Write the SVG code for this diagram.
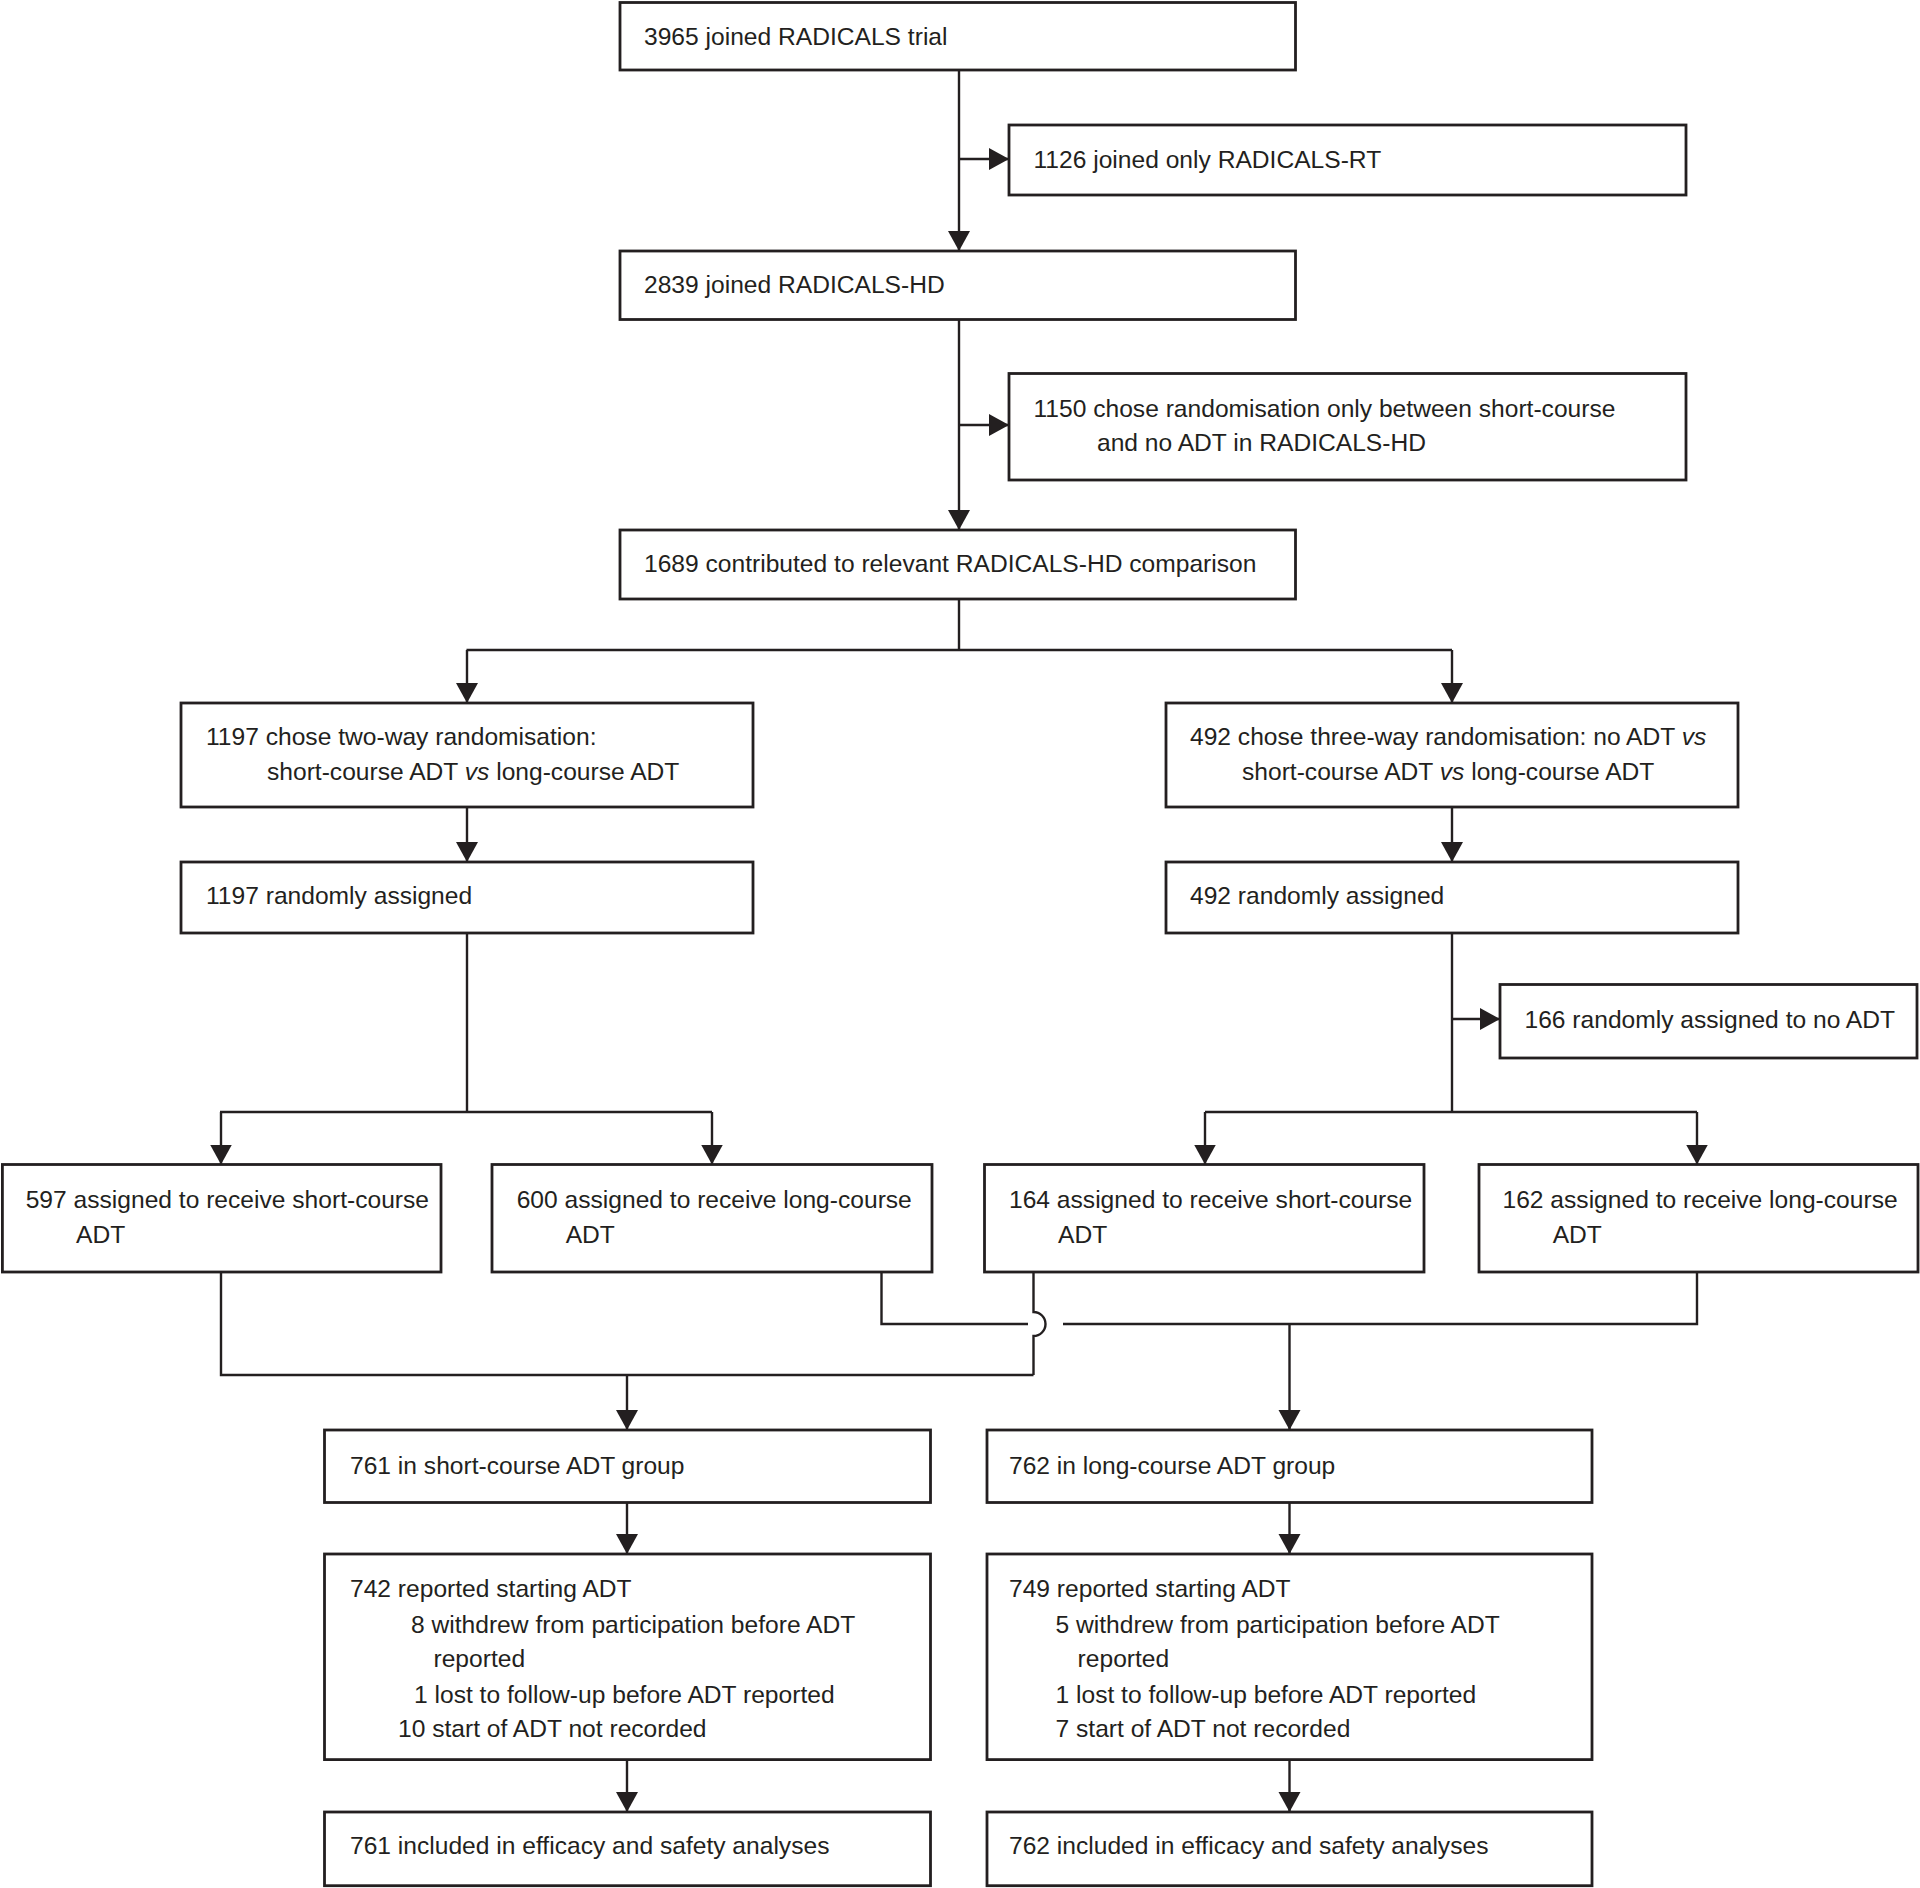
<svg xmlns="http://www.w3.org/2000/svg" width="1920" height="1888" viewBox="0 0 1920 1888">
<defs>
<marker id="ah" markerUnits="userSpaceOnUse" markerWidth="22" markerHeight="24" refX="20" refY="11" orient="auto">
<path d="M0,0 L20,11 L0,22 z" fill="#231f20"/>
</marker>
<style>
.box{fill:#fff;stroke:#231f20;stroke-width:2.8}
.c{fill:none;stroke:#231f20;stroke-width:2.4}
text{font-family:"Liberation Sans",Arial,sans-serif;font-size:24.6px;fill:#231f20}
</style>
</defs>
<rect width="1920" height="1888" fill="#fff"/>
<g id="connectors">
<line class="c" x1="959" y1="70" x2="959" y2="251" marker-end="url(#ah)"/>
<line class="c" x1="959" y1="159" x2="1009" y2="159" marker-end="url(#ah)"/>
<line class="c" x1="959" y1="319.5" x2="959" y2="530" marker-end="url(#ah)"/>
<line class="c" x1="959" y1="425" x2="1009" y2="425" marker-end="url(#ah)"/>
<polyline class="c" points="959,599 959,650"/>
<line class="c" x1="466.5" y1="650" x2="1452" y2="650"/>
<line class="c" x1="467" y1="650" x2="467" y2="703" marker-end="url(#ah)"/>
<line class="c" x1="1452" y1="650" x2="1452" y2="703" marker-end="url(#ah)"/>
<line class="c" x1="467" y1="807" x2="467" y2="862" marker-end="url(#ah)"/>
<line class="c" x1="1452" y1="807" x2="1452" y2="862" marker-end="url(#ah)"/>
<line class="c" x1="467" y1="933" x2="467" y2="1112"/>
<line class="c" x1="220" y1="1112" x2="712" y2="1112"/>
<line class="c" x1="221" y1="1112" x2="221" y2="1164.5" marker-end="url(#ah)"/>
<line class="c" x1="712" y1="1112" x2="712" y2="1164.5" marker-end="url(#ah)"/>
<line class="c" x1="1452" y1="933" x2="1452" y2="1112"/>
<line class="c" x1="1452" y1="1019" x2="1500" y2="1019" marker-end="url(#ah)"/>
<line class="c" x1="1205" y1="1112" x2="1697" y2="1112"/>
<line class="c" x1="1205" y1="1112" x2="1205" y2="1164.5" marker-end="url(#ah)"/>
<line class="c" x1="1697" y1="1112" x2="1697" y2="1164.5" marker-end="url(#ah)"/>
<polyline class="c" points="221,1272 221,1375 1033.5,1375"/>
<path class="c" d="M1033.5,1272 L1033.5,1312 A12,12 0 0,1 1033.5,1336 L1033.5,1375"/>
<polyline class="c" points="881.5,1272 881.5,1324 1028,1324"/>
<polyline class="c" points="1063,1324 1697,1324 1697,1272"/>
<line class="c" x1="627" y1="1375" x2="627" y2="1430" marker-end="url(#ah)"/>
<line class="c" x1="1289.5" y1="1324" x2="1289.5" y2="1430" marker-end="url(#ah)"/>
<line class="c" x1="627" y1="1502.5" x2="627" y2="1554" marker-end="url(#ah)"/>
<line class="c" x1="1289.5" y1="1502.5" x2="1289.5" y2="1554" marker-end="url(#ah)"/>
<line class="c" x1="627" y1="1759.6" x2="627" y2="1812" marker-end="url(#ah)"/>
<line class="c" x1="1289.5" y1="1759.6" x2="1289.5" y2="1812" marker-end="url(#ah)"/>
</g>
<g id="n1"><rect class="box" x="620" y="2.5" width="675.5" height="67.5"/><text x="644" y="45">3965 joined RADICALS trial</text></g>
<g id="n2"><rect class="box" x="1009" y="125" width="677" height="70"/><text x="1033.5" y="168">1126 joined only RADICALS-RT</text></g>
<g id="n3"><rect class="box" x="620" y="251" width="675.5" height="68.5"/><text x="644" y="293">2839 joined RADICALS-HD</text></g>
<g id="n4"><rect class="box" x="1009" y="373.5" width="677" height="106.5"/><text x="1033.5" y="417">1150 chose randomisation only between short-course</text><text x="1097" y="451">and no ADT in RADICALS-HD</text></g>
<g id="n5"><rect class="box" x="620" y="530" width="675.5" height="69"/><text x="644" y="572">1689 contributed to relevant RADICALS-HD comparison</text></g>
<g id="n6"><rect class="box" x="181" y="703" width="572" height="104"/><text x="206" y="745">1197 chose two-way randomisation:</text><text x="267" y="780">short-course ADT <tspan font-style="italic">vs</tspan> long-course ADT</text></g>
<g id="n7"><rect class="box" x="1166" y="703" width="572" height="104"/><text x="1190" y="745">492 chose three-way randomisation: no ADT <tspan font-style="italic">vs</tspan></text><text x="1242" y="780">short-course ADT <tspan font-style="italic">vs</tspan> long-course ADT</text></g>
<g id="n8"><rect class="box" x="181" y="862" width="572" height="71"/><text x="206" y="904">1197 randomly assigned</text></g>
<g id="n9"><rect class="box" x="1166" y="862" width="572" height="71"/><text x="1190" y="904">492 randomly assigned</text></g>
<g id="n10"><rect class="box" x="1500" y="984.5" width="417" height="73.5"/><text x="1524.5" y="1028">166 randomly assigned to no ADT</text></g>
<g id="n11"><rect class="box" x="2.4" y="1164.5" width="438.6" height="107.5"/><text x="25.7" y="1208">597 assigned to receive short-course</text><text x="76" y="1243">ADT</text></g>
<g id="n12"><rect class="box" x="492" y="1164.5" width="440" height="107.5"/><text x="516.7" y="1208">600 assigned to receive long-course</text><text x="565.7" y="1243">ADT</text></g>
<g id="n13"><rect class="box" x="984.5" y="1164.5" width="439.5" height="107.5"/><text x="1009" y="1208">164 assigned to receive short-course</text><text x="1058" y="1243">ADT</text></g>
<g id="n14"><rect class="box" x="1479" y="1164.5" width="439" height="107.5"/><text x="1502.5" y="1208">162 assigned to receive long-course</text><text x="1552.7" y="1243">ADT</text></g>
<g id="n15"><rect class="box" x="324.5" y="1430" width="606" height="72.5"/><text x="350" y="1473.5">761 in short-course ADT group</text></g>
<g id="n16"><rect class="box" x="987" y="1430" width="605" height="72.5"/><text x="1009" y="1473.5">762 in long-course ADT group</text></g>
<g id="n17"><rect class="box" x="324.5" y="1554" width="606" height="205.6"/><text x="350" y="1597">742 reported starting ADT</text><text x="411" y="1633">8 withdrew from participation before ADT</text><text x="433.5" y="1667">reported</text><text x="414" y="1702.5">1 lost to follow-up before ADT reported</text><text x="398" y="1737">10 start of ADT not recorded</text></g>
<g id="n18"><rect class="box" x="987" y="1554" width="605" height="205.6"/><text x="1009" y="1597">749 reported starting ADT</text><text x="1055.5" y="1633">5 withdrew from participation before ADT</text><text x="1077.6" y="1667">reported</text><text x="1055.5" y="1702.5">1 lost to follow-up before ADT reported</text><text x="1055.5" y="1737">7 start of ADT not recorded</text></g>
<g id="n19"><rect class="box" x="324.5" y="1812" width="606" height="73.7"/><text x="350" y="1854">761 included in efficacy and safety analyses</text></g>
<g id="n20"><rect class="box" x="987" y="1812" width="605" height="73.7"/><text x="1009" y="1854">762 included in efficacy and safety analyses</text></g>
</svg>
